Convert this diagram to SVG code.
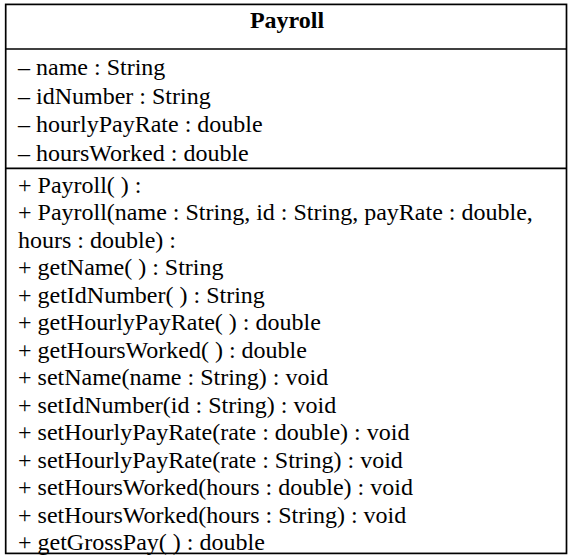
<svg xmlns="http://www.w3.org/2000/svg" width="574" height="560" viewBox="0 0 574 560">
<style>
text{font-family:'Liberation Serif','Times New Roman',serif;font-size:24px;fill:#000}
.h{font-weight:bold}
.ln{stroke:#000;stroke-width:1.7;fill:none}
</style>
<rect width="574" height="560" fill="#fff"/>
<g id="payroll">
<rect class="ln" x="5.7" y="4.4" width="560.8" height="549" fill="#fff"/>
<line class="ln" x1="5.7" y1="49" x2="566.5" y2="49"/>
<line class="ln" x1="5.7" y1="168.3" x2="566.5" y2="168.3"/>
<text class="h" x="287" y="28" text-anchor="middle">Payroll</text>
<text x="18" y="75">– name : String</text>
<text x="18" y="103.7">– idNumber : String</text>
<text x="18" y="132.3">– hourlyPayRate : double</text>
<text x="18" y="161">– hoursWorked : double</text>
<text x="18" y="192.5">+ Payroll( ) :</text>
<text x="18" y="220">+ Payroll(name : String, id : String, payRate : double,</text>
<text x="18" y="247.5">hours : double) :</text>
<text x="18" y="275">+ getName( ) : String</text>
<text x="18" y="302.5">+ getIdNumber( ) : String</text>
<text x="18" y="330">+ getHourlyPayRate( ) : double</text>
<text x="18" y="357.5">+ getHoursWorked( ) : double</text>
<text x="18" y="385">+ setName(name : String) : void</text>
<text x="18" y="412.5">+ setIdNumber(id : String) : void</text>
<text x="18" y="440">+ setHourlyPayRate(rate : double) : void</text>
<text x="18" y="467.5">+ setHourlyPayRate(rate : String) : void</text>
<text x="18" y="495">+ setHoursWorked(hours : double) : void</text>
<text x="18" y="522.5">+ setHoursWorked(hours : String) : void</text>
<text x="18" y="550">+ getGrossPay( ) : double</text>
</g>
</svg>
